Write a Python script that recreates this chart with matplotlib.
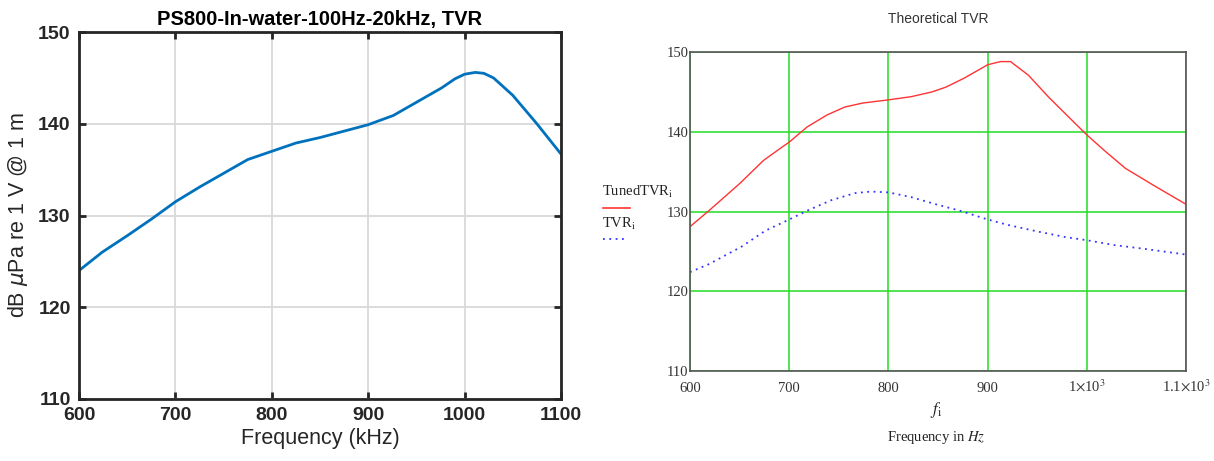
import matplotlib
matplotlib.use("Agg")
import matplotlib.pyplot as plt
from matplotlib.lines import Line2D

# Measured TVR (kHz, dB re 1 uPa/V @ 1 m)
meas_freq = [600, 624, 650, 675, 700, 725, 750, 775, 800, 825, 850, 875, 900,
             926, 951, 976, 990, 1000, 1011, 1020, 1030, 1050, 1075, 1100]
meas_tvr = [124.0, 126.0, 127.8, 129.6, 131.5, 133.1, 134.6, 136.1, 137.0, 137.9,
            138.5, 139.2, 139.9, 140.9, 142.4, 143.9, 144.9, 145.4, 145.6, 145.5,
            145.0, 143.1, 140.0, 136.7]

# Theoretical TVR curves
tuned_freq = [600, 619, 650, 674, 693, 700, 718, 738, 756, 774, 800, 823, 844, 858,
              876, 900, 913, 923, 941, 961, 978, 1000, 1019, 1039, 1067, 1100]
tuned_tvr = [128.1, 130.1, 133.5, 136.4, 138.1, 138.7, 140.6, 142.1, 143.1, 143.6,
             144.0, 144.4, 145.0, 145.6, 146.7, 148.4, 148.8, 148.8, 147.1, 144.4,
             142.3, 139.6, 137.5, 135.4, 133.3, 130.9]
plain_freq = [600, 619, 652, 676, 700, 718, 742, 766, 782, 800, 823, 848, 872, 900,
              921, 950, 978, 1000, 1027, 1059, 1100]
plain_tvr = [122.4, 123.4, 125.6, 127.6, 129.0, 130.1, 131.4, 132.3, 132.5, 132.4,
             131.8, 130.9, 130.1, 129.0, 128.3, 127.5, 126.8, 126.4, 125.8, 125.3, 124.6]

x_ticks = [600, 700, 800, 900, 1000, 1100]
left_xlabels = ["600", "700", "800", "900", "1000", "1100"]
right_xlabels = ["600", "700", "800", "900", r"1$\times$10$^3$", r"1.1$\times$10$^3$"]
y_ticks = [110, 120, 130, 140, 150]

fig = plt.figure(figsize=(12.14, 4.61), dpi=100)
H = 461

# ---- Left panel: MATLAB-style measured TVR ----
ax1 = fig.add_axes([0.0651, 0.1345, 0.397, 0.796])
sans = ["Liberation Sans", "DejaVu Sans"]
ax1.plot(meas_freq, meas_tvr, color="#0072BD", lw=2.0)
ax1.set_xlim(600, 1100)
ax1.set_ylim(110, 150)
ax1.set_xticks(x_ticks)
ax1.set_xticklabels(left_xlabels)
ax1.set_yticks(y_ticks)
ax1.grid(True, color="#d9d9d9", lw=1.3)
ax1.set_axisbelow(True)
for s in ax1.spines.values():
    s.set_linewidth(2.0)
    s.set_color("#262626")
ax1.tick_params(direction="in", length=5, width=2, top=True, right=True,
                labelsize=14, pad=6, colors="#262626")
for lab in ax1.get_xticklabels() + ax1.get_yticklabels():
    lab.set_family(sans)
    lab.set_fontweight("bold")
ax1.set_title("PS800-In-water-100Hz-20kHz, TVR", family=sans, fontsize=14.5,
              fontweight="bold", pad=5)
ax1.set_xlabel("Frequency (kHz)", family=sans, fontsize=15.5, labelpad=3,
               color="#262626")
ax1.set_ylabel(r"dB $\mu$Pa re 1 V @ 1 m", family=sans, fontsize=15.5,
               labelpad=6, color="#262626")

# ---- Right panel: theoretical TVR ----
ax2 = fig.add_axes([0.5684, 0.1952, 0.4086, 0.692])
serif = ["Liberation Serif", "DejaVu Serif"]
ax2.plot(tuned_freq, tuned_tvr, color="#ff3333", lw=1.0)
ax2.plot(plain_freq, plain_tvr, color="#3333ff", lw=1.3, ls=(0, (1, 2.5)))
ax2.set_xlim(600, 1100)
ax2.set_ylim(110, 150)
ax2.set_xticks(x_ticks)
ax2.set_xticklabels(right_xlabels)
ax2.set_yticks(y_ticks)
ax2.grid(True, color="#22dd22", lw=1.1)
ax2.set_axisbelow(True)
for s in ax2.spines.values():
    s.set_linewidth(1.2)
    s.set_color("#555555")
ax2.tick_params(length=0, labelsize=10.5, colors="#333333")
ax2.tick_params(axis="x", pad=15)
ax2.tick_params(axis="y", pad=1)
for lab in ax2.get_xticklabels() + ax2.get_yticklabels():
    lab.set_family(serif)
    lab.set_math_fontfamily("stix")
for lab in ax2.get_xticklabels():
    lab.set_va("baseline")
ax2.set_title("Theoretical TVR", family=sans, fontsize=10, color="#333333", pad=21)

fig.text(936, H - 410, r"$f_{\mathrm{i}}$", transform=None, family=serif,
         math_fontfamily="stix", fontsize=12, color="#222222",
         ha="center", va="center")
fig.text(936, H - 437, r"Frequency in $Hz$", transform=None, family=serif,
         math_fontfamily="stix", fontsize=10.5, color="#222222",
         ha="center", va="center")

# Legend-like labels at the left of the right panel
fig.text(602, H - 192, r"TunedTVR$_{\mathrm{i}}$", transform=None,
         family=serif, math_fontfamily="stix", fontsize=10.5, color="#222222",
         va="center")
fig.add_artist(Line2D([603, 630], [H - 208, H - 208], transform=None,
                      color="#ff3333", lw=1.2))
fig.text(602, H - 224, r"TVR$_{\mathrm{i}}$", transform=None,
         family=serif, math_fontfamily="stix", fontsize=10.5, color="#222222",
         va="center")
fig.add_artist(Line2D([603, 625], [H - 239, H - 239], transform=None,
                      color="#3333ff", lw=1.3, ls=(0, (1, 2.5))))

fig.savefig("out.png", dpi=100)
